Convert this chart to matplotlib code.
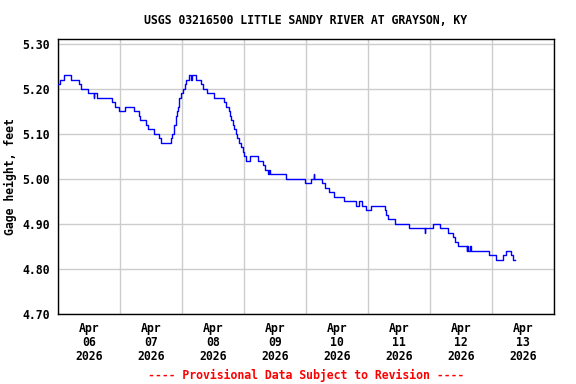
import matplotlib
matplotlib.use("Agg")
import matplotlib.pyplot as plt
import matplotlib.dates as mdates
from matplotlib.font_manager import FontProperties
import pandas as pd

# hours after 2026-04-06 00:00 and gage height (ft), step data
hours = [0.0, 0.75, 2.25, 5.0, 8.0, 8.75, 11.5, 13.75, 14.0, 15.25, 20.75, 22.0,
         23.75, 26.0, 29.5, 31.25, 31.75, 34.0, 34.75, 37.0, 39.0, 40.0, 43.75,
         44.25, 44.75, 45.0, 45.5, 45.75, 46.0, 46.5, 46.75, 47.0, 47.5, 48.25,
         49.0, 49.5, 50.75, 51.5, 51.75, 53.5, 55.5, 56.25, 57.5, 60.25, 64.25,
         65.0, 66.0, 66.5, 67.0, 67.75, 68.25, 68.75, 69.25, 70.0, 71.0, 71.5,
         72.0, 72.75, 74.5, 77.25, 79.25, 80.0, 81.25, 81.5, 82.0, 88.25, 95.75,
         97.75, 99.0, 99.25, 102.25, 103.5, 104.75, 107.0, 110.75, 111.0, 115.5,
         116.5, 117.75, 119.25, 121.25, 126.5, 127.0, 127.75, 130.5, 135.75,
         142.0, 142.25, 145.0, 148.0, 151.0, 152.75, 153.5, 155.0, 158.25, 158.5,
         158.75, 159.5, 159.75, 167.0, 169.5, 172.25, 173.25, 175.5, 176.0, 176.75]
gage = [5.21, 5.22, 5.23, 5.22, 5.21, 5.20, 5.19, 5.18, 5.19, 5.18, 5.17, 5.16,
        5.15, 5.16, 5.15, 5.14, 5.13, 5.12, 5.11, 5.10, 5.09, 5.08, 5.09,
        5.10, 5.11, 5.12, 5.13, 5.14, 5.15, 5.16, 5.17, 5.18, 5.19, 5.20,
        5.21, 5.22, 5.23, 5.22, 5.23, 5.22, 5.21, 5.20, 5.19, 5.18, 5.17,
        5.16, 5.15, 5.14, 5.13, 5.12, 5.11, 5.10, 5.09, 5.08, 5.07, 5.06,
        5.05, 5.04, 5.05, 5.04, 5.03, 5.02, 5.01, 5.02, 5.01, 5.00, 4.99,
        5.00, 5.01, 5.00, 4.99, 4.98, 4.97, 4.96, 4.95, 4.95, 4.94,
        4.95, 4.94, 4.93, 4.94, 4.93, 4.92, 4.91, 4.90, 4.89,
        4.88, 4.89, 4.90, 4.89, 4.88, 4.87, 4.86, 4.85, 4.84, 4.85,
        4.84, 4.85, 4.84, 4.83, 4.82, 4.83, 4.84, 4.83, 4.82, 4.82]

yticks = [4.70, 4.80, 4.90, 5.00, 5.10, 5.20, 5.30]
title = "USGS 03216500 LITTLE SANDY RIVER AT GRAYSON, KY"
footer = "---- Provisional Data Subject to Revision ----"

start = pd.Timestamp("2026-04-06 00:00")
times = [start + pd.Timedelta(hours=h) for h in hours]

font = {"family": "DejaVu Sans Mono", "weight": "bold", "size": 8.3}

fig = plt.figure(figsize=(5.76, 3.84), dpi=100)
ax = fig.add_axes([58 / 576, 70 / 384, 496 / 576, 275 / 384])

ax.plot(times, gage, color="#0000ff", linewidth=1.0, drawstyle="steps-post", zorder=3)

ax.set_xlim(start, start + pd.Timedelta(days=8))
ax.set_ylim(4.699, 5.31)

# grid at midnight, labels at noon
ax.xaxis.set_major_locator(mdates.DayLocator())
ax.xaxis.set_major_formatter(plt.NullFormatter())
ax.xaxis.set_minor_locator(mdates.HourLocator(byhour=[12]))
ax.xaxis.set_minor_formatter(mdates.DateFormatter("%b\n%d\n%Y"))
ax.tick_params(axis="x", which="both", length=0, pad=6)
ax.tick_params(axis="y", length=0, pad=6)

ax.set_yticks(yticks)
ax.set_yticklabels(["%.2f" % v for v in yticks])
for lab in ax.get_yticklabels() + ax.get_xticklabels(minor=True):
    lab.set_fontproperties(FontProperties(**font))
    lab.set_linespacing(1.07)

ax.grid(True, which="major", color="#cccccc", linewidth=1.0, zorder=0)
for s in ax.spines.values():
    s.set_linewidth(1.0)
    s.set_color("black")

ax.set_ylabel("Gage height, feet", fontdict=font)
ax.yaxis.set_label_coords(-0.082, 0.5)
fig.text(306 / 576, 1 - 20 / 384, title, ha="center", va="center", fontdict=font)
fig.text(306 / 576, 1 - 375 / 384, footer, ha="center", va="center", fontdict=font, color="red")

fig.savefig("out.png", dpi=100)
